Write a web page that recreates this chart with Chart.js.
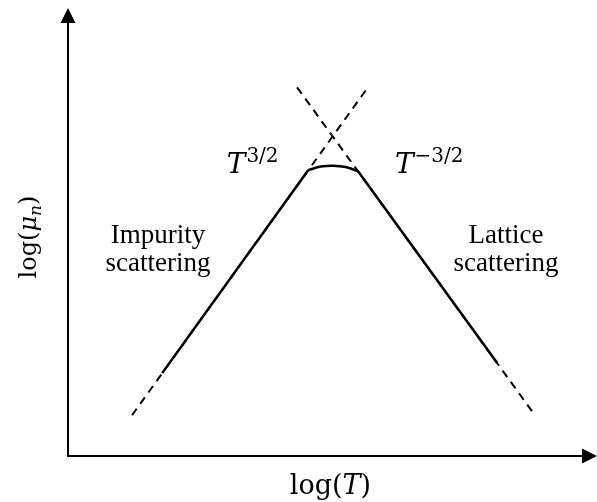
<!DOCTYPE html>
<html>
<head>
<meta charset="utf-8">
<script src="https://cdn.jsdelivr.net/npm/chart.js@4"></script>
<style>
	html, body { margin: 0; padding: 0; background: #fff; }
	#mobility { display: block; }
</style>
</head>
<body>
<canvas id="mobility" width="597" height="502"></canvas>
<script>
// Schematic mobility vs temperature, both on log axes (arbitrary units 0..10)

// impurity branch (rising, ~T^3/2)
const riseT  = [1.78, 4.54];
const riseMu = [1.85, 6.38];
// rounded top where both mechanisms compete
const peakT  = [4.54, 4.78, 5.01, 5.25, 5.48];
const peakMu = [6.38, 6.46, 6.48, 6.45, 6.36];
// lattice branch (falling, ~T^-3/2)
const fallT  = [5.48, 8.11];
const fallMu = [6.36, 2.08];
// dashed extrapolations of each power law
const riseExtT  = [1.21, 5.67];
const riseExtMu = [0.91, 8.23];
const fallExtT  = [4.33, 8.79];
const fallExtMu = [8.23, 0.97];

// labels: [text, superscript, logT, logMu]
const powerLabels = [
	['T', '3/2', 3.0, 6.32],
	['T', '\u22123/2', 6.18, 6.32]
];
// region labels: [line1, line2, logT, logMu of first baseline]
const regionLabels = [
	['Impurity', 'scattering', 1.70, 4.75],
	['Lattice', 'scattering', 8.28, 4.75]
];

const toPoints = (xs, ys) => xs.map((x, i) => ({x: x, y: ys[i]}));

const mathFont = 'DejaVu Serif',
	  textFont = 'Liberation Serif';

// axes with arrow heads + all the text
const sketchPlugin = {
	id: 'sketch',
	afterDraw(chart) {
		const ctx = chart.ctx,
			  xs = chart.scales.x,
			  ys = chart.scales.y;
		const x0 = xs.getPixelForValue(0),
			  x1 = xs.getPixelForValue(10),
			  y0 = ys.getPixelForValue(0),
			  y1 = ys.getPixelForValue(10);
		ctx.save();
		ctx.strokeStyle = '#000';
		ctx.fillStyle = '#000';
		ctx.lineWidth = 2;
		ctx.beginPath();
		ctx.moveTo(x0, y1 + 12);
		ctx.lineTo(x0, y0);
		ctx.lineTo(x1 - 12, y0);
		ctx.stroke();
		// arrow heads
		ctx.beginPath();
		ctx.moveTo(x0, y1);
		ctx.lineTo(x0 - 7.5, y1 + 15);
		ctx.lineTo(x0 + 7.5, y1 + 15);
		ctx.closePath();
		ctx.fill();
		ctx.beginPath();
		ctx.moveTo(x1, y0);
		ctx.lineTo(x1 - 15, y0 - 7.5);
		ctx.lineTo(x1 - 15, y0 + 7.5);
		ctx.closePath();
		ctx.fill();

		// power law labels
		ctx.textBaseline = 'alphabetic';
		ctx.textAlign = 'left';
		powerLabels.forEach(([base, sup, lx, ly]) => {
			const px = xs.getPixelForValue(lx),
				  py = ys.getPixelForValue(ly);
			ctx.font = `italic 28px "${mathFont}"`;
			ctx.fillText(base, px, py);
			const w = ctx.measureText(base).width;
			ctx.font = `20px "${mathFont}"`;
			ctx.fillText(sup, px + w + 1, py - 11);
		});

		// region labels
		ctx.textAlign = 'center';
		ctx.font = `27px "${textFont}"`;
		regionLabels.forEach(([l1, l2, lx, ly]) => {
			const px = xs.getPixelForValue(lx),
				  py = ys.getPixelForValue(ly);
			ctx.fillText(l1, px, py);
			ctx.fillText(l2, px, py + 28);
		});

		// x axis title: log(T)
		const xParts = [['log(', ''], ['T', 'italic '], [')', '']];
		drawParts(ctx, xParts, (x0 + x1) / 2 - 2, y0 + 38, 27);

		// y axis title: log(μn), rotated
		ctx.translate(36, (y0 + y1) / 2 + 5);
		ctx.rotate(-Math.PI / 2);
		const yParts = [['log(', ''], ['\u03bc', 'italic '], ['n', 'italic ', true], [')', '']];
		drawParts(ctx, yParts, 0, 0, 24);
		ctx.restore();
	}
};

// draws mixed-style text pieces centred on cx, baseline at by
function drawParts(ctx, parts, cx, by, size) {
	const fontOf = (p) => `${p[1]}${p[2] ? Math.round(size * 0.7) : size}px "${mathFont}"`;
	let total = 0;
	parts.forEach((p) => {
		ctx.font = fontOf(p);
		total += ctx.measureText(p[0]).width;
	});
	let x = cx - total / 2;
	ctx.textAlign = 'left';
	parts.forEach((p) => {
		ctx.font = fontOf(p);
		ctx.fillText(p[0], x, p[2] ? by + 5 : by);
		x += ctx.measureText(p[0]).width;
	});
}

const solid = {
	borderColor: '#000',
	borderWidth: 2.5,
	pointRadius: 0,
	showLine: true,
	fill: false
};
const dashed = {
	borderColor: '#000',
	borderWidth: 2,
	borderDash: [8, 6],
	pointRadius: 0,
	showLine: true,
	fill: false
};

new Chart(document.getElementById('mobility'), {
	type: 'scatter',
	data: {
		datasets: [
			Object.assign({label: 'impurity', data: toPoints(riseT, riseMu)}, solid),
			Object.assign({label: 'peak', data: toPoints(peakT, peakMu), tension: 0.4}, solid),
			Object.assign({label: 'lattice', data: toPoints(fallT, fallMu)}, solid),
			Object.assign({label: 'impurity ext', data: toPoints(riseExtT, riseExtMu)}, dashed),
			Object.assign({label: 'lattice ext', data: toPoints(fallExtT, fallExtMu)}, dashed)
		]
	},
	options: {
		responsive: false,
		animation: false,
		layout: {
			padding: {left: 68, top: 8, right: 0, bottom: 46}
		},
		scales: {
			x: {display: false, min: 0, max: 10},
			y: {display: false, min: 0, max: 10}
		},
		plugins: {
			legend: {display: false},
			tooltip: {enabled: false}
		}
	},
	plugins: [sketchPlugin]
});
</script>
</body>
</html>
